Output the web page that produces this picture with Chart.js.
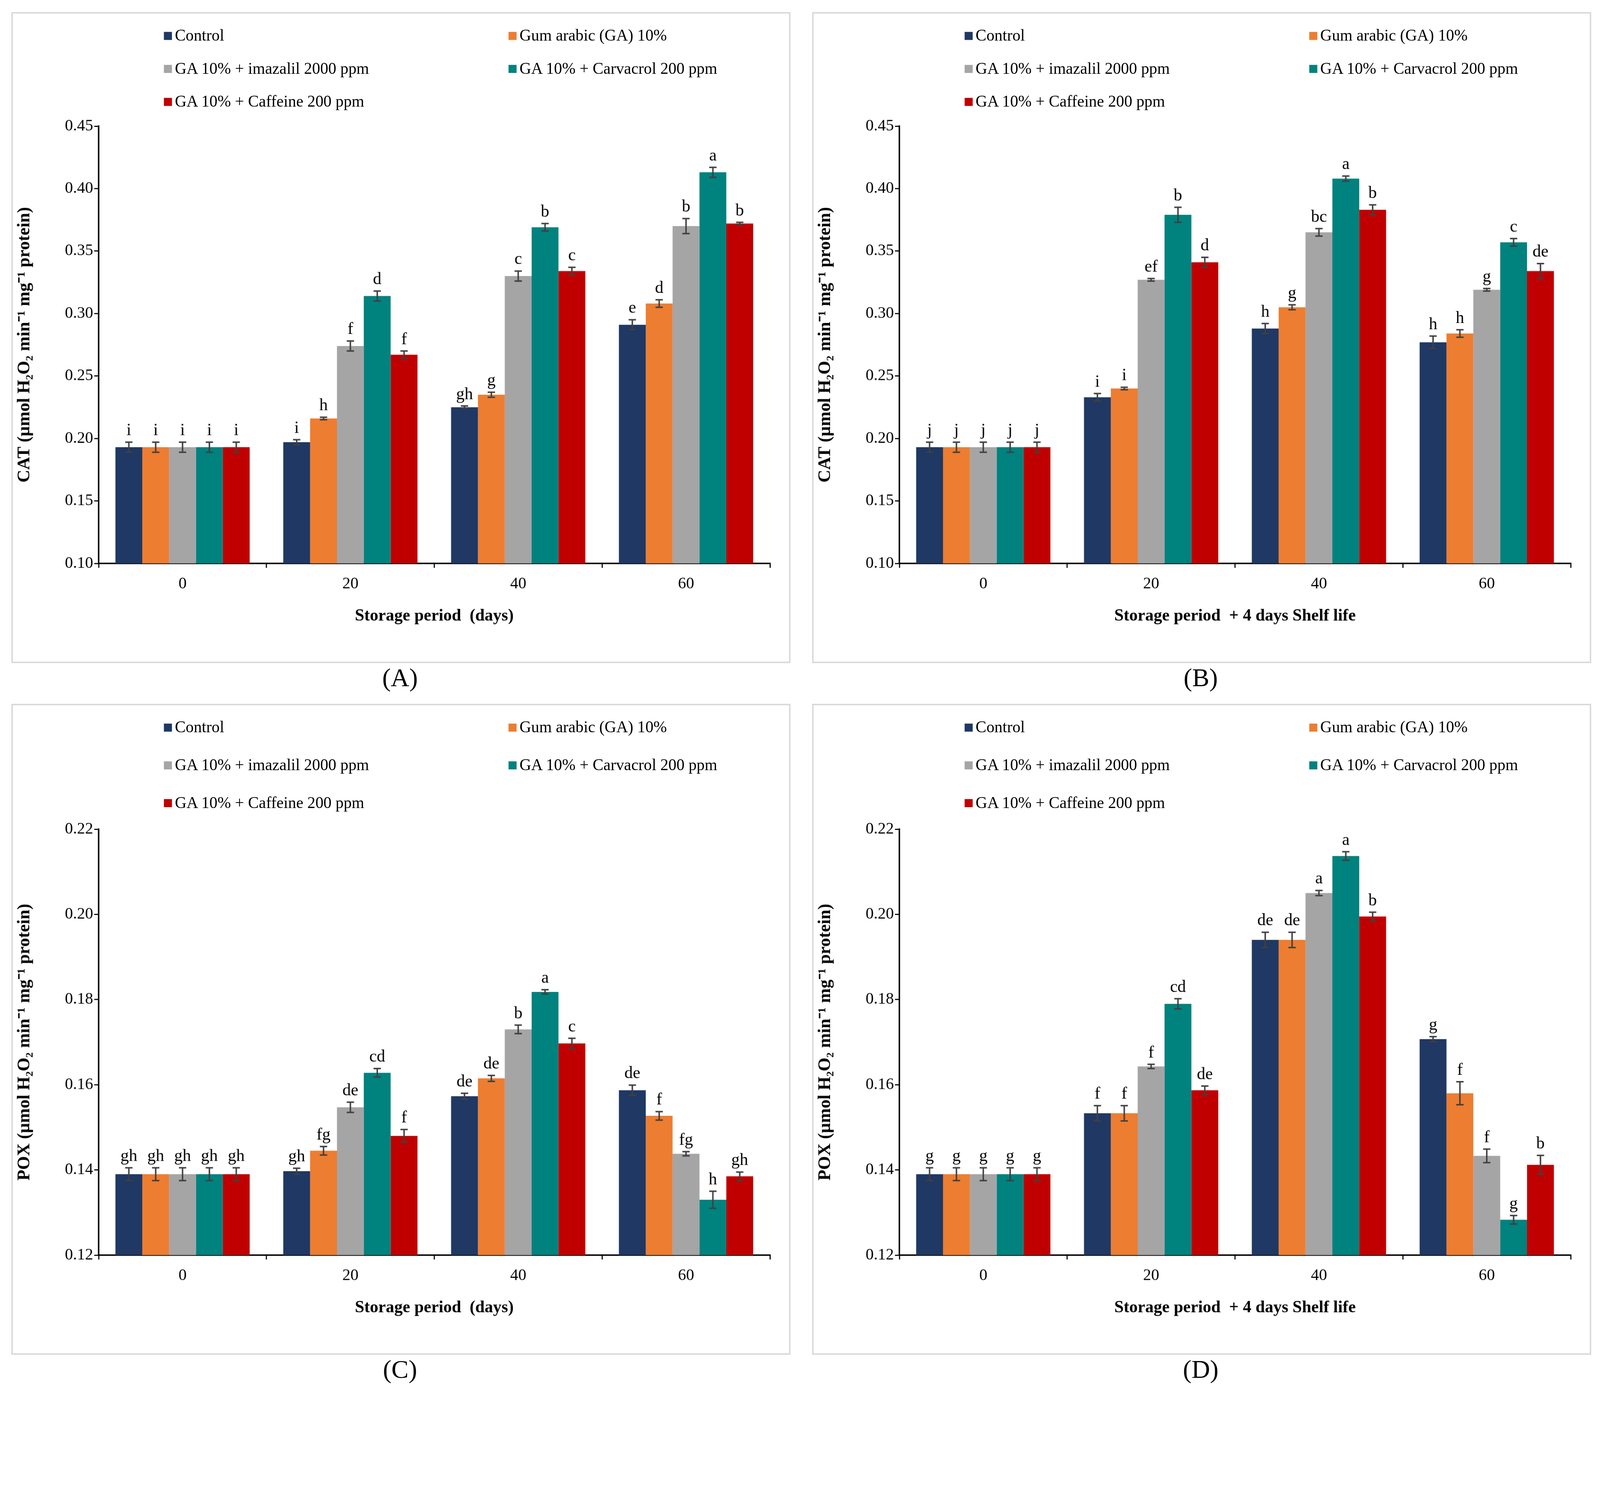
<!DOCTYPE html>
<html>
<head>
<meta charset="utf-8">
<script src="https://cdn.jsdelivr.net/npm/chart.js@4.4.1/dist/chart.umd.min.js"></script>
<style>
  html, body { margin: 0; background: #fff; overflow: hidden; }
  #page { width: 4364px; height: 3828px; position: relative; font-family: 'Liberation Serif', serif; transform-origin: 0 0; }
  .panel { position: absolute; border: 4px solid #d9d9d9; box-sizing: border-box; }
  .panel canvas { position: absolute; left: 0; top: 0; }
  .leg { position: absolute; font-size: 44px; color: #000; white-space: nowrap; }
  .leg span.sw { display: inline-block; width: 22px; height: 22px; margin-right: 8px; vertical-align: 2px; }
  .lab { position: absolute; font-size: 70px; width: 300px; text-align: center; }
</style>
</head>
<body>
<div id="page"></div>
<script>
const page = document.getElementById('page');
page.style.transform = 'scale(' + (window.innerWidth / 4364) + ')';

const colors = ['#1F3864', '#ED7D31', '#A5A5A5', '#00827F', '#C00000'];
const names = ['Control', 'Gum arabic (GA) 10%', 'GA 10% + imazalil 2000 ppm', 'GA 10% + Carvacrol 200 ppm', 'GA 10% + Caffeine 200 ppm'];
const days = ['0', '20', '40', '60'];

// each panel: values[treatment][day], errors, letters
const panels = [
    {
        id: 'A', x: 31, y: 33, min: 0.10, max: 0.45, step: 0.05, top: 307, legGap: 90,
        yTitle: 'CAT (µmol H₂O₂ min⁻¹ mg⁻¹ protein)', xTitle: 'Storage period  (days)',
        values: [[0.193, 0.197, 0.225, 0.291], [0.193, 0.216, 0.235, 0.308], [0.193, 0.274, 0.330, 0.370], [0.193, 0.314, 0.369, 0.413], [0.193, 0.267, 0.334, 0.372]],
        errors: [[0.004, 0.002, 0.001, 0.004], [0.004, 0.001, 0.002, 0.003], [0.004, 0.004, 0.004, 0.006], [0.004, 0.004, 0.003, 0.004], [0.004, 0.003, 0.003, 0.001]],
        letters: [['i', 'i', 'gh', 'e'], ['i', 'h', 'g', 'd'], ['i', 'f', 'c', 'b'], ['i', 'd', 'b', 'a'], ['i', 'f', 'c', 'b']],
    },
    {
        id: 'B', x: 2215, y: 33, min: 0.10, max: 0.45, step: 0.05, top: 307, legGap: 90,
        yTitle: 'CAT (µmol H₂O₂ min⁻¹ mg⁻¹ protein)', xTitle: 'Storage period  + 4 days Shelf life',
        values: [[0.193, 0.233, 0.288, 0.277], [0.193, 0.240, 0.305, 0.284], [0.193, 0.327, 0.365, 0.319], [0.193, 0.379, 0.408, 0.357], [0.193, 0.341, 0.383, 0.334]],
        errors: [[0.004, 0.003, 0.004, 0.005], [0.004, 0.001, 0.002, 0.003], [0.004, 0.001, 0.003, 0.001], [0.004, 0.006, 0.002, 0.003], [0.004, 0.004, 0.004, 0.006]],
        letters: [['j', 'i', 'h', 'h'], ['j', 'i', 'g', 'h'], ['j', 'ef', 'bc', 'g'], ['j', 'b', 'a', 'c'], ['j', 'd', 'b', 'de']],
    },
    {
        id: 'C', x: 31, y: 1920, min: 0.12, max: 0.22, step: 0.02, top: 338, legGap: 103,
        yTitle: 'POX (µmol H₂O₂ min⁻¹ mg⁻¹ protein)', xTitle: 'Storage period  (days)',
        values: [[0.139, 0.1397, 0.1573, 0.1587], [0.139, 0.1445, 0.1615, 0.1527], [0.139, 0.1547, 0.173, 0.1438], [0.139, 0.1628, 0.1818, 0.133], [0.139, 0.148, 0.1697, 0.1385]],
        errors: [[0.0015, 0.0007, 0.0007, 0.0012], [0.0015, 0.001, 0.0007, 0.001], [0.0015, 0.0012, 0.001, 0.0005], [0.0015, 0.001, 0.0005, 0.002], [0.0015, 0.0015, 0.0012, 0.001]],
        letters: [['gh', 'gh', 'de', 'de'], ['gh', 'fg', 'de', 'f'], ['gh', 'de', 'b', 'fg'], ['gh', 'cd', 'a', 'h'], ['gh', 'f', 'c', 'gh']],
    },
    {
        id: 'D', x: 2215, y: 1920, min: 0.12, max: 0.22, step: 0.02, top: 338, legGap: 103,
        yTitle: 'POX (µmol H₂O₂ min⁻¹ mg⁻¹ protein)', xTitle: 'Storage period  + 4 days Shelf life',
        values: [[0.139, 0.1533, 0.194, 0.1707], [0.139, 0.1533, 0.194, 0.158], [0.139, 0.1643, 0.205, 0.1433], [0.139, 0.179, 0.2137, 0.1283], [0.139, 0.1587, 0.1995, 0.1412]],
        errors: [[0.0015, 0.0018, 0.0018, 0.0006], [0.0015, 0.0018, 0.0018, 0.0027], [0.0015, 0.0005, 0.0006, 0.0016], [0.0015, 0.0012, 0.001, 0.001], [0.0015, 0.001, 0.001, 0.0022]],
        letters: [['g', 'f', 'de', 'g'], ['g', 'f', 'de', 'f'], ['g', 'f', 'a', 'f'], ['g', 'cd', 'a', 'g'], ['g', 'de', 'b', 'b']],
    },
];

const W = 2125, H = 1776;

const errorBars = {
    id: 'errorBars',
    afterDatasetsDraw(chart) {
        const { ctx } = chart;
        const yScale = chart.scales.y;
        const p = chart.options.plugins.errorBars;
        chart.data.datasets.forEach((ds, i) => {
            chart.getDatasetMeta(i).data.forEach((bar, j) => {
                const v = ds.data[j], e = p.errors[i][j];
                const yTop = yScale.getPixelForValue(v + e);
                const yBot = yScale.getPixelForValue(v - e);
                ctx.save();
                ctx.strokeStyle = '#404040';
                ctx.lineWidth = 4;
                ctx.beginPath();
                ctx.moveTo(bar.x, yTop); ctx.lineTo(bar.x, yBot);
                ctx.moveTo(bar.x - 10, yTop); ctx.lineTo(bar.x + 10, yTop);
                ctx.moveTo(bar.x - 10, yBot); ctx.lineTo(bar.x + 10, yBot);
                ctx.stroke();
                ctx.fillStyle = '#000';
                ctx.font = '46px "Liberation Serif"';
                ctx.textAlign = 'center';
                ctx.textBaseline = 'bottom';
                ctx.fillText(p.letters[i][j], bar.x, yTop - 8);
                ctx.restore();
            });
        });
    },
};

panels.forEach((p) => {
    const div = document.createElement('div');
    div.className = 'panel';
    Object.assign(div.style, { left: p.x + 'px', top: p.y + 'px', width: W + 'px', height: H + 'px' });
    page.appendChild(div);

    // legend, two columns
    names.forEach((n, i) => {
        const l = document.createElement('div');
        l.className = 'leg';
        l.style.left = (i % 2 === 0 ? 412 : 1352) + 'px';
        l.style.top = (62 + Math.floor(i / 2) * p.legGap - 28) + 'px';
        l.innerHTML = '<span class="sw" style="background:' + colors[i] + '"></span>' + n;
        div.appendChild(l);
    });

    const lab = document.createElement('div');
    lab.className = 'lab';
    lab.textContent = '(' + p.id + ')';
    lab.style.left = (p.x + 1060 - 150) + 'px';
    lab.style.top = (p.y + H + 0) + 'px';
    page.appendChild(lab);

    const canvas = document.createElement('canvas');
    canvas.width = W; canvas.height = H;
    canvas.style.width = W + 'px'; canvas.style.height = H + 'px';
    div.appendChild(canvas);

    new Chart(canvas, {
        type: 'bar',
        data: {
            labels: days,
            datasets: names.map((n, i) => ({
                label: n,
                data: p.values[i],
                backgroundColor: colors[i],
                categoryPercentage: 0.8,
                barPercentage: 1.0,
            })),
        },
        options: {
            responsive: false,
            animation: false,
            devicePixelRatio: 1,
            layout: { padding: { top: p.top, right: 60, left: 0, bottom: 100 } },
            plugins: {
                legend: { display: false },
                tooltip: { enabled: false },
                errorBars: { errors: p.errors, letters: p.letters },
            },
            scales: {
                x: {
                    afterFit: (s) => { s.height = 176; },
                    border: { color: '#000', width: 4 },
                    grid: { display: true, drawOnChartArea: false, color: '#000', lineWidth: 3, tickLength: 12 },
                    ticks: { color: '#000', font: { family: 'Liberation Serif', size: 44 }, padding: 18 },
                    title: { display: true, text: p.xTitle, color: '#000', font: { family: 'Liberation Serif', size: 46, weight: 'bold' }, padding: { top: 30 } },
                },
                y: {
                    min: p.min, max: p.max,
                    afterFit: (s) => { s.width = 234; },
                    border: { color: '#000', width: 4 },
                    grid: { display: true, drawOnChartArea: false, color: '#000', lineWidth: 3, tickLength: 12 },
                    ticks: {
                        stepSize: p.step, color: '#000', font: { family: 'Liberation Serif', size: 44 },
                        callback: (v) => v.toFixed(2),
                    },
                    title: { display: true, text: p.yTitle, color: '#000', font: { family: 'Liberation Serif', size: 48, weight: 'bold' }, padding: { bottom: 10 } },
                },
            },
        },
        plugins: [errorBars],
    });
});
</script>
</body>
</html>
